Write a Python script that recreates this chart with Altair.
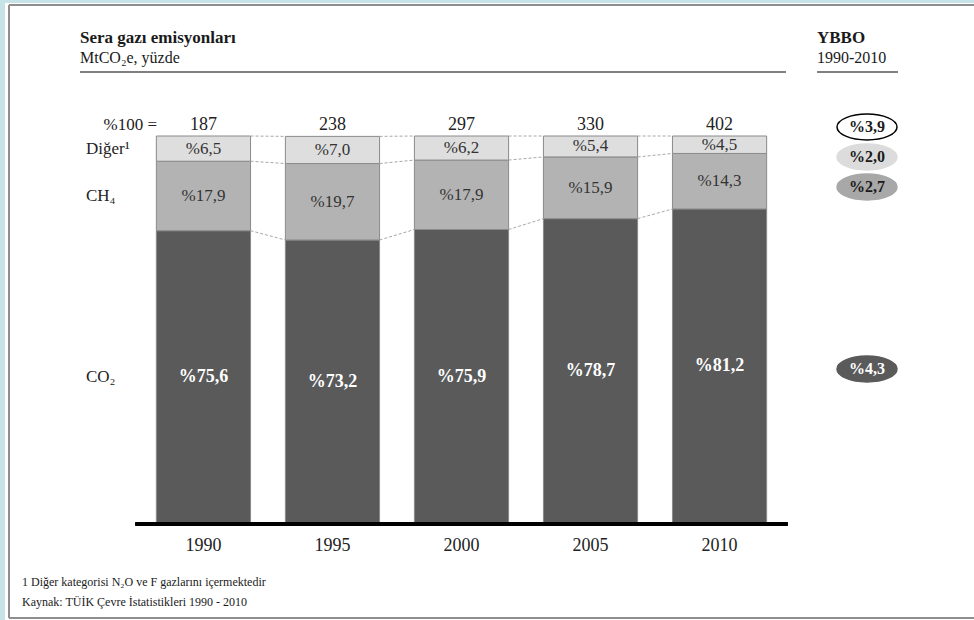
import altair as alt
import pandas as pd

# ---------------- data ----------------
years = ["1990", "1995", "2000", "2005", "2010"]
totals = [187, 238, 297, 330, 402]          # MtCO2e (=%100)
co2 = [75.6, 73.2, 75.9, 78.7, 81.2]
ch4 = [17.9, 19.7, 17.9, 15.9, 14.3]
diger = [6.5, 7.0, 6.2, 5.4, 4.5]
gases = ["CO2", "CH4", "Diger"]
gas_names = ["CO₂", "CH₄", "Diğer¹"]
ybbo_total = "%3,9"
ybbo = ["%4,3", "%2,7", "%2,0"]             # CO2, CH4, Diger (1990-2010 CAGR)

title_txt = "Sera gazı emisyonları"
subtitle_txt = "MtCO₂e, yüzde"
ybbo_title = "YBBO"
ybbo_sub = "1990-2010"
foot1 = "1 Diğer kategorisi N₂O ve F gazlarını içermektedir"
foot2 = "Kaynak: TÜİK Çevre İstatistikleri 1990 - 2010"

# ---------------- style / layout ----------------
FONT = "'Liberation Serif', 'Times New Roman', 'DejaVu Serif', serif"
COLORS = ["#5a5a5a", "#b3b3b3", "#dedede"]
PAD_IN, PAD_OUT = 0.27, 0.15
N = len(years)
SPAN = N - PAD_IN + 2 * PAD_OUT
BW = 1 - PAD_IN


def pct(v):
    return "%" + f"{v:.1f}".replace(".", ",")


def left(i):
    return PAD_OUT + i


# segments
rows = []
for i, y in enumerate(years):
    lo = 0.0
    for g, vals in zip(gases, [co2, ch4, diger]):
        v = vals[i]
        rows.append({"year": y, "gas": g, "lo": lo, "hi": lo + v, "mid": lo + v / 2,
                     "label": pct(v), "u0": left(i), "u1": left(i) + BW,
                     "uc": left(i) + BW / 2})
        lo += v
seg = pd.DataFrame(rows)

# connectors between neighbouring bars at the segment boundaries
levels = [co2, [a + b for a, b in zip(co2, ch4)],
          [a + b + c for a, b, c in zip(co2, ch4, diger)]]
crow = []
for i in range(N - 1):
    for lv in levels:
        crow.append({"u": left(i) + BW, "un": left(i + 1), "y": min(lv[i], 100),
                     "yn": min(lv[i + 1], 100)})
conn = pd.DataFrame(crow)

tot = pd.DataFrame({"year": years, "total": [str(t) for t in totals],
                    "uc": [left(i) + BW / 2 for i in range(N)]})

first = seg[seg["year"] == years[0]].copy()
first["name"] = gas_names

# ---------------- scales ----------------
xs = alt.Scale(domain=[0, SPAN], range=[137, 786], nice=False, zero=False)
ys = alt.Scale(domain=[0, 100], range=[524, 136], nice=False, zero=False)


def X(f):
    return alt.X(f, type="quantitative", scale=xs, axis=None)


def Y(f):
    return alt.Y(f, type="quantitative", scale=ys, axis=None)


layers = []

# frame
bg = alt.Chart(pd.DataFrame({"a": [0]}))
layers.append(bg.mark_rect(fill="#c6e4e7").encode(
    x=alt.value(0), x2=alt.value(974), y=alt.value(0), y2=alt.value(620)))
layers.append(bg.mark_rect(fill="white").encode(
    x=alt.value(5), x2=alt.value(974), y=alt.value(3), y2=alt.value(620)))
for x1, x2, y1, y2 in [(9, 974, 5, 5), (9, 974, 618, 618), (9, 9, 5, 618)]:
    layers.append(bg.mark_rule(color="#8e8e8e", strokeWidth=2).encode(
        x=alt.value(x1), x2=alt.value(x2), y=alt.value(y1), y2=alt.value(y2)))

# bars
layers.append(alt.Chart(seg).mark_rect(stroke="#8a8a8a", strokeWidth=1).encode(
    x=X("u0"), x2="u1", y=Y("lo"), y2="hi",
    color=alt.Color("gas:N", scale=alt.Scale(domain=gases, range=COLORS), legend=None)))

# connectors
layers.append(alt.Chart(conn).mark_rule(color="#a8a8a8", strokeWidth=1, strokeDash=[3, 2]).encode(
    x=X("u"), x2="un", y=Y("y"), y2="yn"))

# baseline
layers.append(alt.Chart(tot).transform_calculate(zero="0").mark_rule(
    color="black", strokeWidth=4, strokeCap="round").encode(
    y=Y("zero"), x=alt.value(137), x2=alt.value(786)))

# segment labels
layers.append(alt.Chart(seg[seg["gas"] != "CO2"]).mark_text(
    font=FONT, fontSize=17, color="#333333", baseline="middle").encode(
    x=X("uc"), y=Y("mid"), text="label"))
layers.append(alt.Chart(seg[seg["gas"] == "CO2"]).mark_text(
    font=FONT, fontSize=18, fontWeight="bold", color="white", baseline="middle").encode(
    x=X("uc"), y=Y("mid"), text="label"))

# totals and year labels
layers.append(alt.Chart(tot).transform_calculate(top="100").mark_text(
    font=FONT, fontSize=18, color="#222222", baseline="middle", dy=-11).encode(
    x=X("uc"), y=Y("top"), text="total"))
layers.append(alt.Chart(tot).transform_calculate(zero="0").mark_text(
    font=FONT, fontSize=18, color="#222222", baseline="middle", dy=22).encode(
    x=X("uc"), y=Y("zero"), text="year"))


def txt(s, x, y, size, weight="normal", align="left", color="#1a1a1a"):
    return bg.mark_text(font=FONT, fontSize=size, fontWeight=weight, color=color,
                        align=align, baseline="middle", text=s).encode(
        x=alt.value(x), y=alt.value(y))


layers.append(txt("%100 =", 157, 125, 17, align="right", color="#222222"))

# left row labels (aligned to first bar's segments)
layers.append(alt.Chart(first).mark_text(font=FONT, fontSize=17, color="#222222",
                                         align="left", baseline="middle").encode(
    x=alt.value(86), y=Y("mid"), text="name"))

# header
layers.append(txt(title_txt, 80, 38, 17, "bold"))
layers.append(txt(subtitle_txt, 80, 58, 16))
layers.append(txt(ybbo_title, 817, 38, 17, "bold"))
layers.append(txt(ybbo_sub, 817, 58, 16))
layers.append(bg.mark_rule(color="#555555", strokeWidth=1.5).encode(
    x=alt.value(80), x2=alt.value(786), y=alt.value(72)))
layers.append(bg.mark_rule(color="#555555", strokeWidth=1.5).encode(
    x=alt.value(817), x2=alt.value(898), y=alt.value(72)))
layers.append(txt(foot1, 22, 582, 12))
layers.append(txt(foot2, 22, 602, 12))

# YBBO ellipses
ELL = "M -1 0 A 1 0.43 0 1 0 1 0 A 1 0.43 0 1 0 -1 0 Z"
ell_specs = [
    (ybbo_total, 127, "white", "black", "#1a1a1a"),
    (ybbo[2], 157, "#dcdcdc", "#dcdcdc", "#1a1a1a"),
    (ybbo[1], 187, "#a8a8a8", "#a8a8a8", "#1a1a1a"),
    (ybbo[0], 369, "#5a5a5a", "#5a5a5a", "white"),
]
for lab, py, fill, stroke, tc in ell_specs:
    layers.append(bg.mark_point(shape=ELL, size=3600, filled=True, fill=fill,
                                opacity=1, stroke=stroke, strokeWidth=1.5).encode(
        x=alt.value(867), y=alt.value(py)))
    layers.append(txt(lab, 867, py, 16, "bold", align="center", color=tc))

chart = alt.layer(*layers).properties(
    width=974, height=620, padding=0,
    autosize=alt.AutoSizeParams(type="none"),
).configure_view(stroke=None)

chart.save("out.html", embed_options={"renderer": "svg", "actions": False})
